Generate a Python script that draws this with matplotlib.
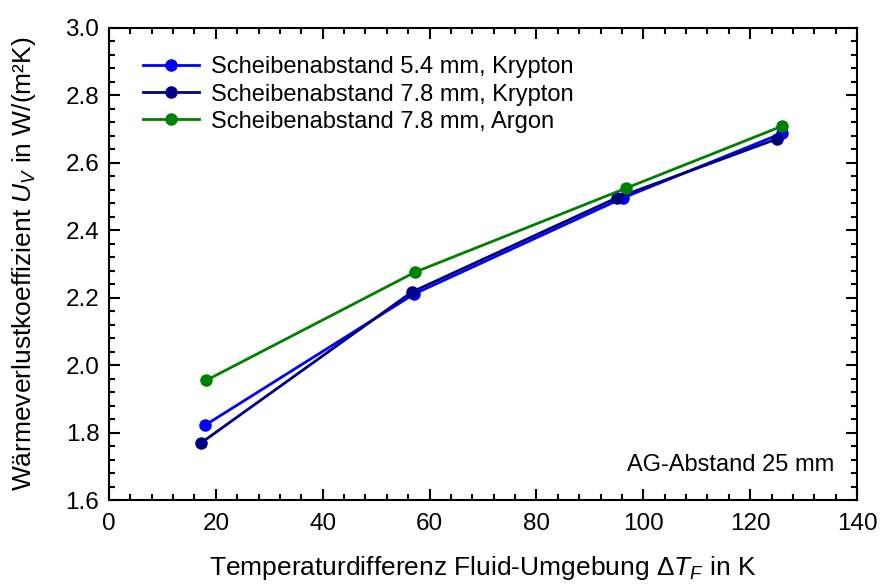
import matplotlib
matplotlib.use("Agg")
import matplotlib.pyplot as plt
from matplotlib.ticker import MultipleLocator, AutoMinorLocator

plt.rcParams['font.family'] = ['Liberation Sans', 'DejaVu Sans']
plt.rcParams['mathtext.fontset'] = 'custom'
plt.rcParams['mathtext.rm'] = 'Liberation Sans'
plt.rcParams['mathtext.it'] = 'Liberation Sans:italic'
plt.rcParams['mathtext.bf'] = 'Liberation Sans:bold'

labels = ["Scheibenabstand 5.4 mm, Krypton",
          "Scheibenabstand 7.8 mm, Krypton",
          "Scheibenabstand 7.8 mm, Argon"]
colors = ["#0000FF", "#000080", "#008000"]

x_54kr = [18.0, 57.1, 96.2, 126.0]
y_54kr = [1.822, 2.211, 2.496, 2.688]
x_78kr = [17.2, 56.7, 95.0, 125.0]
y_78kr = [1.769, 2.217, 2.496, 2.671]
x_78ar = [18.2, 57.3, 96.8, 126.0]
y_78ar = [1.955, 2.276, 2.525, 2.709]

fig = plt.figure(figsize=(8.88, 5.88), dpi=100)
ax = fig.add_axes([109/888, 1-500/588, (857-109)/888, (500-28)/588])

for xs, ys, lab, c in [(x_54kr, y_54kr, labels[0], colors[0]),
                       (x_78kr, y_78kr, labels[1], colors[1]),
                       (x_78ar, y_78ar, labels[2], colors[2])]:
    ax.plot(xs, ys, '-o', color=c, lw=2, ms=8, label=lab)

ax.set_xlim(0, 140)
ax.set_ylim(1.6, 3.0)
ax.xaxis.set_major_locator(MultipleLocator(20))
ax.xaxis.set_minor_locator(AutoMinorLocator(5))
ax.yaxis.set_major_locator(MultipleLocator(0.2))
ax.yaxis.set_minor_locator(AutoMinorLocator(5))
ax.yaxis.set_major_formatter(matplotlib.ticker.FormatStrFormatter('%.1f'))
ax.tick_params(which='both', direction='in', top=True, right=True, labelsize=17.5, width=1.5)
ax.tick_params(which='major', length=8)
ax.tick_params(which='minor', length=4)
ax.tick_params(axis='x', pad=9)
ax.tick_params(axis='y', pad=7)
for s in ax.spines.values():
    s.set_linewidth(1.5)

ax.set_xlabel(r"Temperaturdifferenz Fluid-Umgebung $\mathit{Δ}T_F$ in K", fontsize=19, labelpad=14)
ax.set_ylabel(r"Wärmeverlustkoeffizient $U_V$ in W/(m²K)", fontsize=19, labelpad=20)

ax.text(0.97, 0.075, "AG-Abstand 25 mm", transform=ax.transAxes, ha='right', va='center', fontsize=17)

ax.legend(loc='upper left', frameon=False, fontsize=17, handlelength=2.4,
          bbox_to_anchor=(0.023, 0.975), borderaxespad=0.3, labelspacing=0.22, handletextpad=0.5)

fig.savefig("out.png", dpi=100)
